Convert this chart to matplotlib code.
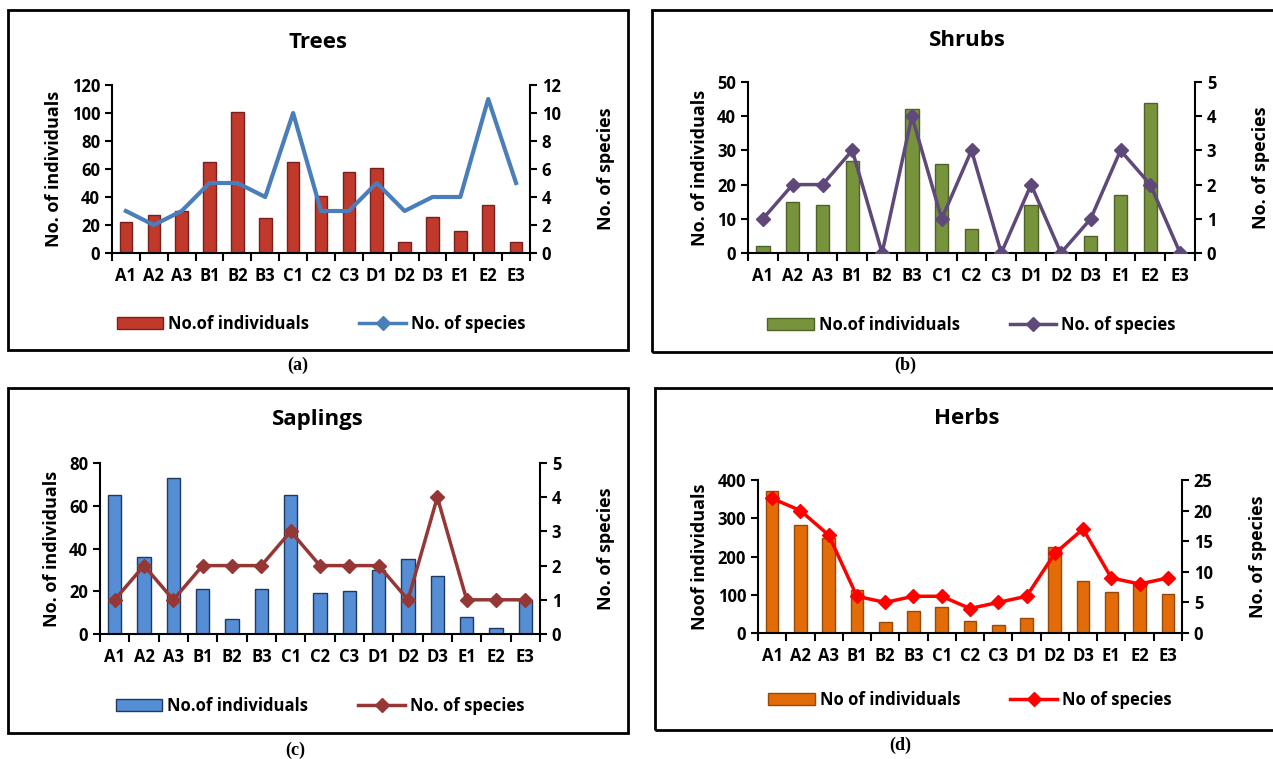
import matplotlib
matplotlib.use("Agg")
import matplotlib.pyplot as plt
import numpy as np
from matplotlib.patches import Rectangle
from matplotlib.lines import Line2D

plt.rcParams['font.family'] = ['Open Sans', 'DejaVu Sans']

sites = ['A1', 'A2', 'A3', 'B1', 'B2', 'B3', 'C1', 'C2', 'C3', 'D1', 'D2', 'D3', 'E1', 'E2', 'E3']

trees_ind = [22, 27, 30, 65, 101, 25, 65, 41, 58, 61, 8, 26, 16, 34, 8]
trees_sp = [3, 2, 3, 5, 5, 4, 10, 3, 3, 5, 3, 4, 4, 11, 5]

shrubs_ind = [2, 15, 14, 27, 0, 42, 26, 7, 0, 14, 0, 5, 17, 44, 0]
shrubs_sp = [1, 2, 2, 3, 0, 4, 1, 3, 0, 2, 0, 1, 3, 2, 0]

saplings_ind = [65, 36, 73, 21, 7, 21, 65, 19, 20, 30, 35, 27, 8, 3, 16]
saplings_sp = [1, 2, 1, 2, 2, 2, 3, 2, 2, 2, 1, 4, 1, 1, 1]

herbs_ind = [370, 282, 248, 113, 30, 58, 68, 32, 20, 40, 225, 135, 106, 125, 103]
herbs_sp = [22, 20, 16, 6, 5, 6, 6, 4, 5, 6, 13, 17, 9, 8, 9]

W, H = 1273, 759
fig = plt.figure(figsize=(W / 100, H / 100), dpi=100)


def box(x0, y0, x1, y1):
    return [x0 / W, 1 - y1 / H, (x1 - x0) / W, (y1 - y0) / H]


def panel(frame, axrect, title, tpos, ind, sp, ymax, ystep, y2max, y2step,
          bar_c, bar_e, line_c, marker, ylab, leg1, leg2, tag, tagpos):
    fx0, fy0, fx1, fy1 = frame
    fig.patches.append(Rectangle((fx0 / W, 1 - fy1 / H), (fx1 - fx0) / W, (fy1 - fy0) / H,
                                 transform=fig.transFigure, fill=False,
                                 edgecolor='black', linewidth=2))
    ax = fig.add_axes(box(*axrect))
    x = np.arange(len(sites))
    ax.bar(x, ind, width=0.45, color=bar_c, edgecolor=bar_e, linewidth=1)
    ax.set_xlim(-0.5, len(sites) - 0.5)
    ax.set_ylim(0, ymax)
    ax.set_yticks(np.arange(0, ymax + 1, ystep))
    ax.set_xticks(x)
    ax.set_xticklabels(sites)
    ax.set_xticks(np.arange(-0.5, len(sites), 1), minor=True)
    ax.tick_params(axis='x', which='major', length=0, pad=10)
    ax.tick_params(axis='x', which='minor', length=6, width=1.5, direction='out')
    ax.tick_params(axis='y', length=5, width=1.5, direction='out')
    for lab in ax.get_xticklabels() + ax.get_yticklabels():
        lab.set_fontweight('bold')
        lab.set_fontsize(12)
    ax.spines['top'].set_visible(False)
    ax.spines['right'].set_visible(False)
    for s in ['left', 'bottom']:
        ax.spines[s].set_linewidth(1.5)
    ax.set_ylabel(ylab, fontsize=13, fontweight='bold', labelpad=6)
    fig.text(tpos[0] / W, 1 - tpos[1] / H, title, ha='center', va='center',
             fontsize=16, fontweight='bold')

    ax2 = ax.twinx()
    if marker:
        ax2.plot(x, sp, color=line_c, linewidth=2.5, marker='D', markersize=7)
    else:
        ax2.plot(x, sp, color=line_c, linewidth=3)
    ax2.set_ylim(0, y2max)
    ax2.set_yticks(np.arange(0, y2max + 0.1, y2step))
    ax2.tick_params(axis='y', length=5, width=1.5, direction='out')
    for lab in ax2.get_yticklabels():
        lab.set_fontweight('bold')
        lab.set_fontsize(12)
    for s in ['top', 'left', 'bottom']:
        ax2.spines[s].set_visible(False)
    ax2.spines['right'].set_linewidth(1.5)
    ax2.set_ylabel('No. of species', fontsize=13, fontweight='bold', labelpad=26)

    h1 = Rectangle((0, 0), 1, 1, facecolor=bar_c, edgecolor=bar_e)
    h2 = Line2D([], [], color=line_c, linewidth=2.5, marker='D', markersize=7)
    ax.legend([h1, h2], [leg1, leg2], loc='upper center', bbox_to_anchor=(0.5, -0.28),
              ncol=2, frameon=False, handlelength=2.8, columnspacing=3,
              handletextpad=0.3, prop={'size': 12, 'weight': 'bold'})
    fig.text(tagpos[0] / W, 1 - tagpos[1] / H, tag, ha='center', va='center',
             fontsize=13, fontweight='bold', family='Liberation Serif')


panel((8, 10, 628, 350), (112, 85, 530, 253), 'Trees', (318, 43), trees_ind, trees_sp,
      120, 20, 12, 2, '#C0392B', '#7B1E1E', '#4A7EBB', False,
      'No. of individuals', 'No.of individuals', 'No. of species', '(a)', (298, 365))
panel((652, 10, 1290, 352), (748, 82, 1195, 253), 'Shrubs', (967, 41), shrubs_ind, shrubs_sp,
      50, 10, 5, 1, '#77933C', '#4F6228', '#5F497A', True,
      'No. of individuals', 'No.of individuals', 'No. of species', '(b)', (905, 365))
panel((8, 388, 628, 733), (100, 463, 540, 634), 'Saplings', (318, 420), saplings_ind, saplings_sp,
      80, 20, 5, 1, '#558ED5', '#1F3864', '#953735', True,
      'No. of individuals', 'No.of individuals', 'No. of species', '(c)', (295, 750))
panel((655, 388, 1290, 730), (758, 480, 1182, 633), 'Herbs', (967, 418), herbs_ind, herbs_sp,
      400, 100, 25, 5, '#E36C09', '#984807', '#FF0000', True,
      'Noof individuals', 'No of individuals', 'No of species', '(d)', (900, 745))

fig.savefig('out.png', dpi=100)
